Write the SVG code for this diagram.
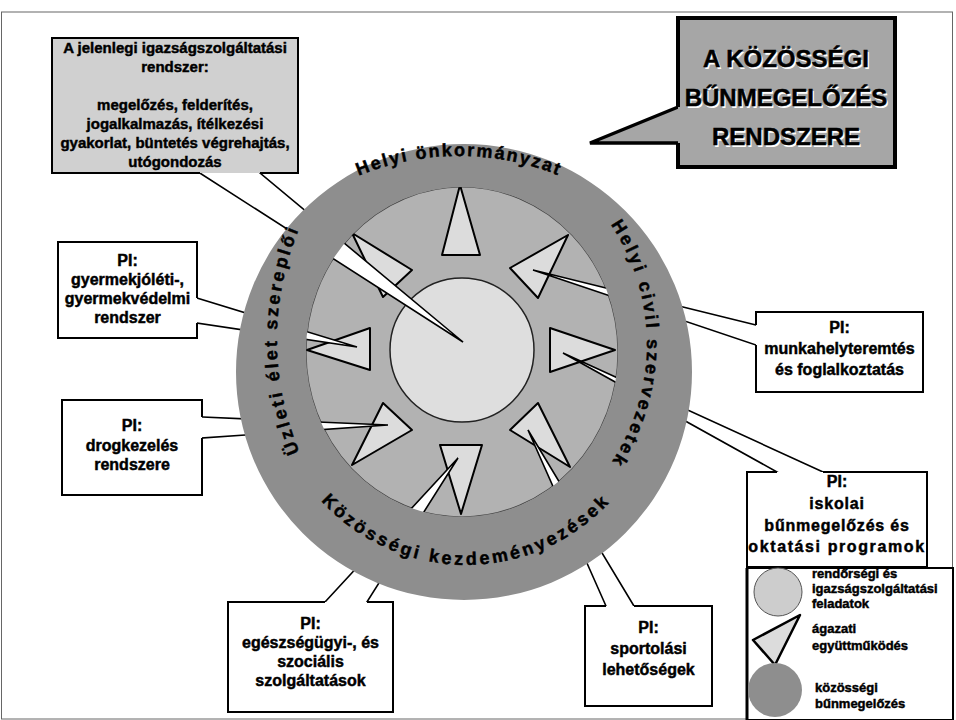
<svg xmlns="http://www.w3.org/2000/svg" width="956" height="720" viewBox="0 0 956 720">
<defs>
<style>
.t{font-family:"Liberation Sans",Arial,sans-serif;font-weight:bold;fill:#000;stroke:#000;stroke-width:0.45}
.bt{font-size:16px;text-anchor:middle}
.rt{font-size:18px}
.lt{font-size:13px}
.fillw{fill:#fff;stroke:none}
.bd{fill:none;stroke:#000;stroke-width:2;stroke-linejoin:miter}
.tail{fill:#fff;stroke:#000;stroke-width:1.6;stroke-linejoin:miter}
.tri{fill:#dcdcdc;stroke:#000;stroke-width:2;stroke-linejoin:round}
</style>
<path id="arcTop" d="M 195,420 A 264 264 0 0 1 723,420"/>
<path id="arcBottom" d="M 270,369 A 196 196 0 0 0 662,369"/>
<path id="arcLeft" d="M 568,631 A 291 291 0 0 1 568,49"/>
<path id="arcRight" d="M 432,129 A 215 215 0 0 1 432,559"/>
</defs>
<rect x="0" y="0" width="956" height="720" fill="#fff"/>
<rect x="1.5" y="12" width="951" height="707" fill="none" stroke="#666" stroke-width="1"/>

<g id="core">
<ellipse cx="462" cy="352" rx="156" ry="165" fill="#b2b2b2" stroke="#444" stroke-width="1.2"/>
<circle cx="462" cy="350" r="72" fill="#dedede" stroke="#222" stroke-width="1.5"/>
<g id="triangles">
<polygon class="tri" points="460,185 442,255 480,255"/>
<polygon class="tri" points="568,235 510,268 538,298"/>
<polygon class="tri" points="615,350 550,328 550,372"/>
<polygon class="tri" points="570,467 510,430 538,403"/>
<polygon class="tri" points="461,514 440,445 482,445"/>
<polygon class="tri" points="352,465 383,403 412,430"/>
<polygon class="tri" points="307,350 370,328 370,370"/>
<polygon class="tri" points="352,233 412,270 383,297"/>
</g>
</g>

<g id="connectors">
<polygon class="tail" points="192,168 463,342 254,168"/>
<polygon class="tail" points="683,105 590,143 683,143" style="fill:#a6a6a6;stroke-width:3.5"/>
<polygon class="tail" points="192,296.5 357,347 192,322.3"/>
<polygon class="tail" points="197,416.8 388,425 197,438.3"/>
<polygon class="tail" points="761,326.2 533,270 761,346.7"/>
<polygon class="tail" points="786,477 563,353 834,477"/>
<polygon class="tail" points="320.4,607 458,458 363.8,607"/>
<polygon class="tail" points="608.2,611 528,430 637,611"/>
</g>

<g id="ring">
<path d="M 236,372 A 228 228 0 1 0 692,372 A 228 228 0 1 0 236,372 Z M 306,352 A 156 165 0 1 0 618,352 A 156 165 0 1 0 306,352 Z" fill="#8e8e8e" fill-rule="evenodd"/>
<text class="t rt" letter-spacing="2"><textPath href="#arcTop" startOffset="50%" text-anchor="middle">Helyi önkormányzat</textPath></text>
<text class="t rt" letter-spacing="2.8"><textPath href="#arcRight" startOffset="50%" text-anchor="middle">Helyi civil szervezetek</textPath></text>
<text class="t rt" letter-spacing="3"><textPath href="#arcBottom" startOffset="50%" text-anchor="middle">Közösségi kezdeményezések</textPath></text>
<text class="t rt" letter-spacing="3"><textPath href="#arcLeft" startOffset="50%" text-anchor="middle">Üzleti élet szereplői</textPath></text>
</g>

<g id="box-jelenlegi">
<rect x="52" y="38" width="246" height="135" fill="#d0d0d0"/>
<path class="bd" d="M 260,173 L 298,173 L 298,38 L 52,38 L 52,173 L 200,173"/>
<g class="t" font-size="15" text-anchor="middle">
<text x="175" y="53">A jelenlegi igazságszolgáltatási</text>
<text x="175" y="72">rendszer:</text>
<text x="175" y="110">megelőzés, felderítés,</text>
<text x="175" y="129">jogalkalmazás, ítélkezési</text>
<text x="175" y="148">gyakorlat, büntetés végrehajtás,</text>
<text x="175" y="167">utógondozás</text>
</g>
</g>

<g id="box-title">
<rect x="678" y="18" width="217" height="149" fill="#a6a6a6"/>
<path class="bd" style="stroke-width:4" d="M 678,143 L 678,167 L 895,167 L 895,18 L 678,18 L 678,107"/>
<g font-family="Liberation Sans, Arial, sans-serif" font-weight="bold" font-size="24" text-anchor="middle">
<text x="787.5" y="68.5" fill="#fff">A KÖZÖSSÉGI</text>
<text x="787.5" y="107.5" fill="#fff">BŰNMEGELŐZÉS</text>
<text x="787.5" y="146.5" fill="#fff">RENDSZERE</text>
<text x="786" y="67" fill="#000" stroke="#000" stroke-width="0.5">A KÖZÖSSÉGI</text>
<text x="786" y="106" fill="#000" stroke="#000" stroke-width="0.5">BŰNMEGELŐZÉS</text>
<text x="786" y="145" fill="#000" stroke="#000" stroke-width="0.5">RENDSZERE</text>
</g>
</g>

<g id="box-gyermek">
<rect class="fillw" x="58" y="242" width="139" height="96"/>
<path class="bd" d="M 197,298 L 197,242 L 58,242 L 58,338 L 197,338 L 197,323"/>
<text class="t bt" x="127.5" y="266">PI:</text>
<text class="t bt" x="127.5" y="285">gyermekjóléti-,</text>
<text class="t bt" x="127.5" y="304">gyermekvédelmi</text>
<text class="t bt" x="127.5" y="323">rendszer</text>
</g>

<g id="box-drog">
<rect class="fillw" x="62" y="400" width="140" height="95"/>
<path class="bd" d="M 202,417 L 202,400 L 62,400 L 62,495 L 202,495 L 202,438"/>
<text class="t bt" x="132" y="431">PI:</text>
<text class="t bt" x="132" y="451">drogkezelés</text>
<text class="t bt" x="132" y="470">rendszere</text>
</g>

<g id="box-munka">
<rect class="fillw" x="756" y="312" width="167" height="80"/>
<path class="bd" d="M 756,325 L 756,312 L 923,312 L 923,392 L 756,392 L 756,345"/>
<text class="t bt" x="839.5" y="333">PI:</text>
<text class="t bt" x="839.5" y="354">munkahelyteremtés</text>
<text class="t bt" x="839.5" y="375">és foglalkoztatás</text>
</g>

<g id="box-iskola">
<rect class="fillw" x="747" y="472" width="180" height="95"/>
<path class="bd" d="M 777,472 L 747,472 L 747,567 L 927,567 L 927,472 L 823,472"/>
<text class="t bt" x="837" y="487">PI:</text>
<text class="t bt" x="837" y="509" letter-spacing="0.8">iskolai</text>
<text class="t bt" x="837" y="531" letter-spacing="0.8">bűnmegelőzés és</text>
<text class="t bt" x="837" y="552" letter-spacing="1.6">oktatási programok</text>
</g>

<g id="box-egeszseg">
<rect class="fillw" x="228" y="602" width="165" height="110"/>
<path class="bd" d="M 325,602 L 228,602 L 228,712 L 393,712 L 393,602 L 367,602"/>
<text class="t bt" x="310.5" y="629">PI:</text>
<text class="t bt" x="310.5" y="648">egészségügyi-, és</text>
<text class="t bt" x="310.5" y="667">szociális</text>
<text class="t bt" x="310.5" y="686">szolgáltatások</text>
</g>

<g id="box-sport">
<rect class="fillw" x="585" y="606" width="127" height="100"/>
<path class="bd" d="M 606,606 L 585,606 L 585,706 L 712,706 L 712,606 L 634,606"/>
<text class="t bt" x="648.5" y="633">PI:</text>
<text class="t bt" x="648.5" y="654">sportolási</text>
<text class="t bt" x="648.5" y="675">lehetőségek</text>
</g>

<g id="legend">
<rect x="747" y="568" width="206" height="152" fill="#fff" stroke="#000" stroke-width="2"/>
<line x1="747" y1="568" x2="747" y2="720" stroke="#000" stroke-width="3"/>
<circle cx="778" cy="592" r="24" fill="#cdcdcd" stroke="#555" stroke-width="1"/>
<polygon points="753,640 800,615 775,665" fill="#dcdcdc" stroke="#000" stroke-width="2.5" stroke-linejoin="round"/>
<circle cx="775" cy="690" r="27" fill="#8e8e8e"/>
<g class="t lt">
<text x="812" y="578">rendőrségi és</text>
<text x="812" y="593">igazságszolgáltatási</text>
<text x="812" y="608">feladatok</text>
<text x="812" y="633">ágazati</text>
<text x="812" y="650">együttműködés</text>
<text x="815" y="692">közösségi</text>
<text x="815" y="708">bűnmegelőzés</text>
</g>
</g>
</svg>
